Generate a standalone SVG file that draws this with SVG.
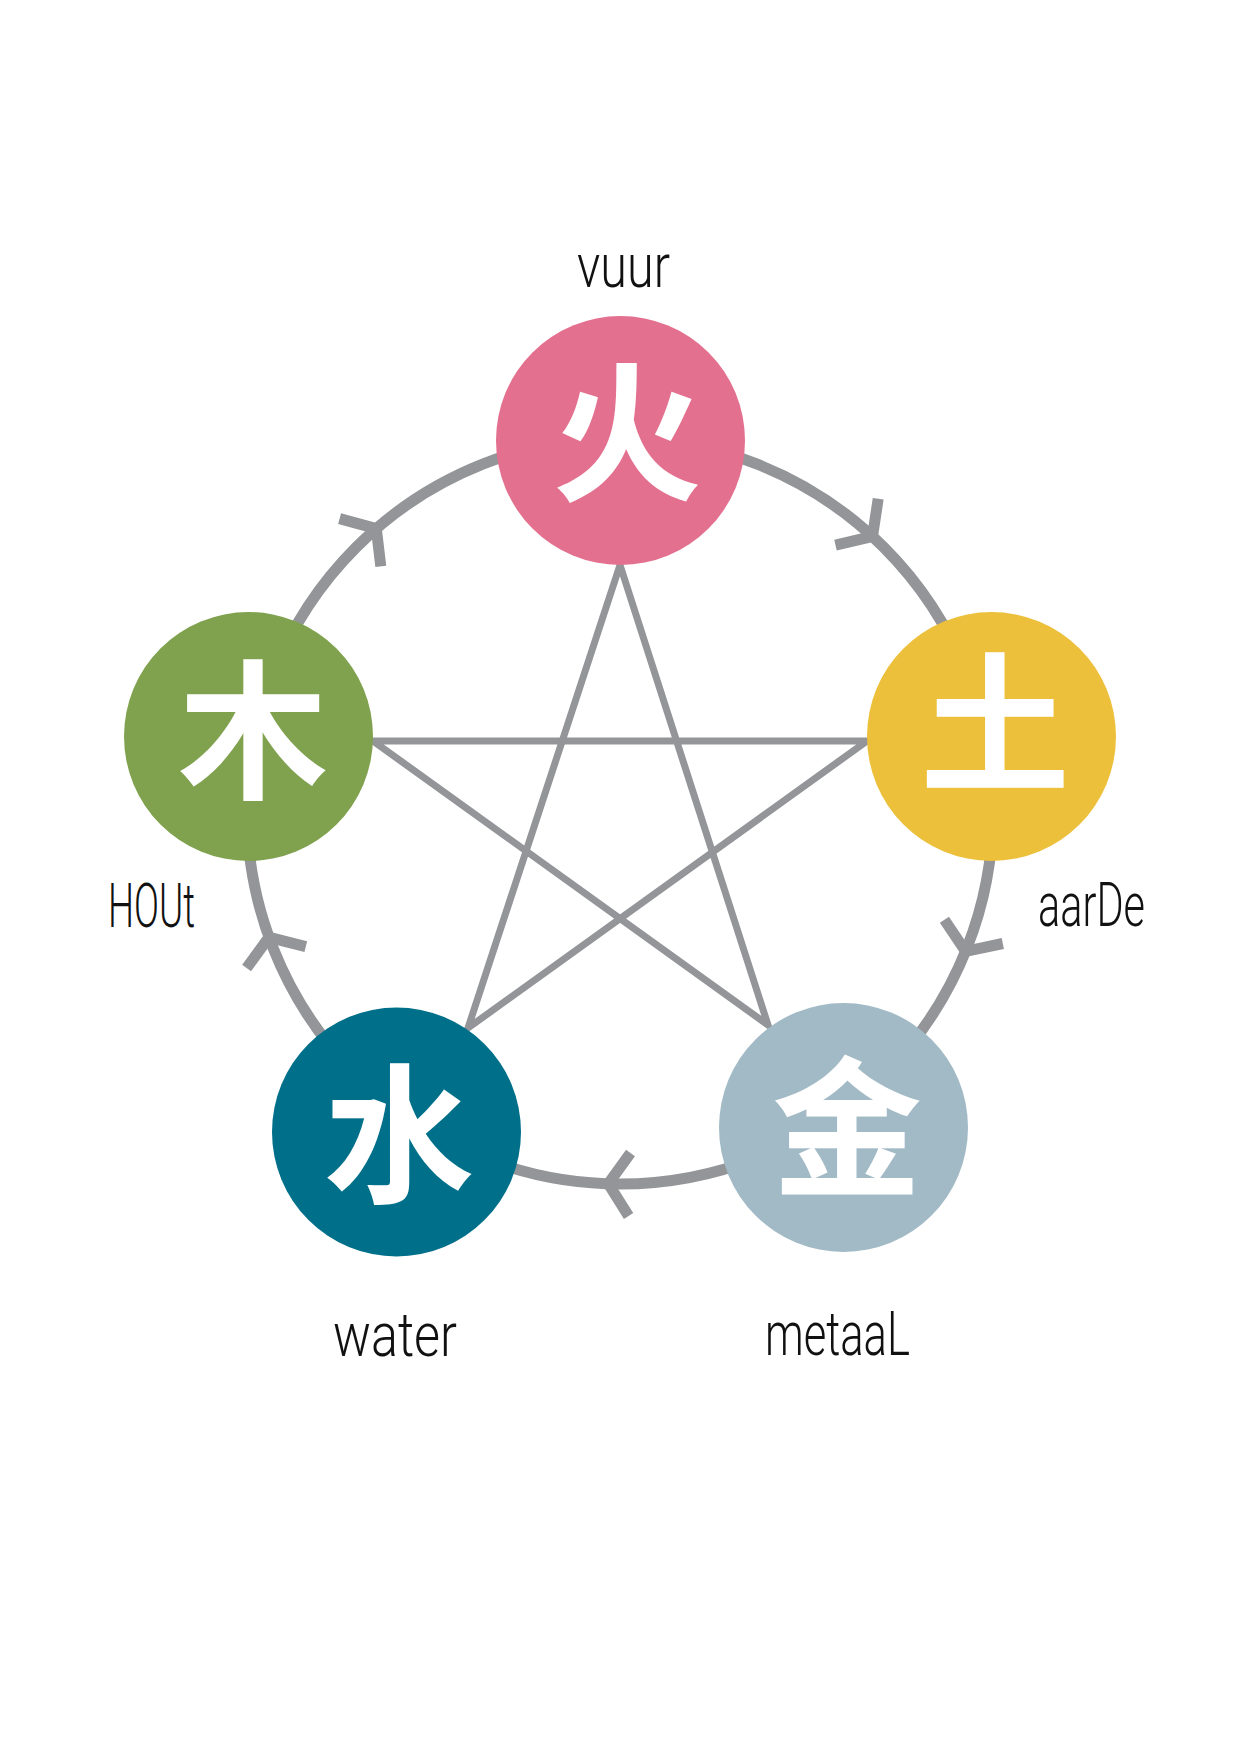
<svg xmlns="http://www.w3.org/2000/svg" width="1240" height="1748" viewBox="0 0 1240 1748">
  <style>
    .ring { fill: none; stroke: #939598; stroke-width: 11; }
    .star { fill: none; stroke: #939598; stroke-width: 7; stroke-linejoin: miter; stroke-miterlimit: 10; }
    .arrow { fill: none; stroke: #939598; stroke-width: 11; stroke-linejoin: miter; stroke-linecap: butt; }
    .glyph { fill: #ffffff; font-family: "Noto Sans CJK SC", "Noto Sans CJK TC", sans-serif; font-weight: 700; font-size: 150px; text-anchor: middle; }
    .label { fill: #111111; font-family: "Roboto", "Liberation Sans", sans-serif; font-weight: 300; font-size: 61px; }
  </style>
  <rect width="1240" height="1748" fill="#ffffff"/>
  <g id="connectors">
    <circle class="ring" cx="620" cy="811" r="373"/>
    <polygon class="star" points="620,565 468,1028 867,741 373,741 768,1025"/>
    <path class="arrow" d="M339.6,518.6 L376.3,528.6 L380.8,566.3"/>
    <path class="arrow" d="M878.2,498.8 L872.5,536.4 L835.5,545.2"/>
    <path class="arrow" d="M1002.8,943.5 L965.6,951.3 L944.4,919.8"/>
    <path class="arrow" d="M630.5,1153 L608.3,1183.8 L628.6,1216"/>
    <path class="arrow" d="M246.6,968 L269,937.3 L305.8,946.6"/>
  </g>
  <g id="node-vuur">
    <circle cx="620.5" cy="440.5" r="124.5" fill="#E3708F"/>
    <text class="glyph" x="627" y="489">火</text>
    <text class="label" x="577" y="287" textLength="93" lengthAdjust="spacingAndGlyphs">vuur</text>
  </g>
  <g id="node-aarde">
    <circle cx="991.5" cy="736.5" r="124.5" fill="#EDC03B"/>
    <text class="glyph" x="995" y="780">土</text>
    <text class="label" x="1038" y="926" font-size="57" textLength="107" lengthAdjust="spacingAndGlyphs">aarDe</text>
  </g>
  <g id="node-metaal">
    <circle cx="843.5" cy="1127.5" r="124.5" fill="#A1BAC6"/>
    <text class="glyph" x="847" y="1184">金</text>
    <text class="label" x="765" y="1355" font-size="57" textLength="145" lengthAdjust="spacingAndGlyphs">metaaL</text>
  </g>
  <g id="node-water">
    <circle cx="396.5" cy="1132" r="124.5" fill="#006F8A"/>
    <text class="glyph" x="399" y="1191">水</text>
    <text class="label" x="333" y="1356" textLength="124" lengthAdjust="spacingAndGlyphs">water</text>
  </g>
  <g id="node-hout">
    <circle cx="248.5" cy="736.5" r="124.5" fill="#80A24F"/>
    <text class="glyph" x="253" y="787">木</text>
    <text class="label" x="108" y="927" font-size="46" textLength="87" lengthAdjust="spacingAndGlyphs">HOUt</text>
  </g>
</svg>
